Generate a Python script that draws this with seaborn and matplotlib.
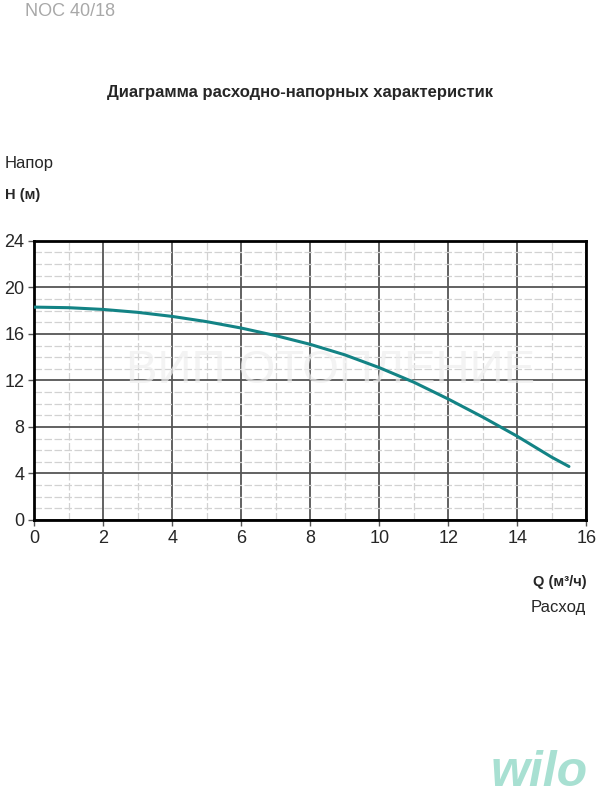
import matplotlib
matplotlib.use('Agg')
import matplotlib.pyplot as plt
import seaborn as sns
import pandas as pd
from matplotlib.ticker import MultipleLocator

# Кривая Q-H
flow = [0, 1, 2, 3, 4, 5, 6, 7, 8, 9, 10, 11, 12, 13, 14, 15, 15.5]
head = [18.3, 18.25, 18.1, 17.85, 17.5, 17.05, 16.5, 15.85, 15.1, 14.2, 13.1, 11.85, 10.4, 8.85, 7.2, 5.4, 4.6]
x_ticks = [0, 2, 4, 6, 8, 10, 12, 14, 16]
y_ticks = [0, 4, 8, 12, 16, 20, 24]

df = pd.DataFrame({'Q': flow, 'H': head})

sns.set_theme(style='white')
plt.rcParams['font.family'] = ['Liberation Sans', 'DejaVu Sans']

fig = plt.figure(figsize=(6, 8), dpi=100)
ax = fig.add_axes([0.057, 0.35, 0.920, 0.349])

sns.lineplot(data=df, x='Q', y='H', ax=ax, color='#138385', linewidth=2.2, zorder=5)

ax.set_xlim(0, 16)
ax.set_ylim(0, 24)
ax.set_xticks(x_ticks)
ax.set_yticks(y_ticks)
ax.xaxis.set_minor_locator(MultipleLocator(1))
ax.yaxis.set_minor_locator(MultipleLocator(1))
ax.grid(which='major', color='#555555', linewidth=1.3)
ax.grid(which='minor', color='#d2d2d2', linewidth=0.9, linestyle=(0, (6, 2)))
ax.tick_params(which='major', direction='out', length=4, width=1, color='#555555',
               labelsize=13, pad=3, left=True, bottom=True)
ax.tick_params(which='minor', length=0)
for s in ax.spines.values():
    s.set_color('black')
    s.set_linewidth(2)
ax.set_xlabel('')
ax.set_ylabel('')

# водяной знак
ax.text(8.6, 12.8, 'ВИП ОТОПЛЕНИЕ', ha='center', va='center', fontsize=34,
        color='#eeeeee', alpha=0.7, zorder=1)

fig.text(0.042, 0.986, 'NOC 40/18', fontsize=13, color='#a8a8a8', va='center')
fig.text(0.5, 0.885, 'Диаграмма расходно-напорных характеристик', fontsize=12,
         fontweight='bold', ha='center', va='center')
fig.text(0.008, 0.796, 'Напор', fontsize=12, va='center')
fig.text(0.008, 0.756, 'H (м)', fontsize=10.5, fontweight='bold', va='center')
fig.text(0.977, 0.272, 'Q (м³/ч)', fontsize=10.5, fontweight='bold', ha='right', va='center')
fig.text(0.977, 0.241, 'Расход', fontsize=12, ha='right', va='center')
fig.text(0.98, 0.005, 'wilo', fontsize=36, fontweight='bold', style='italic',
         color='#a8e0d2', ha='right', va='bottom')

fig.savefig('out.png', dpi=100)
